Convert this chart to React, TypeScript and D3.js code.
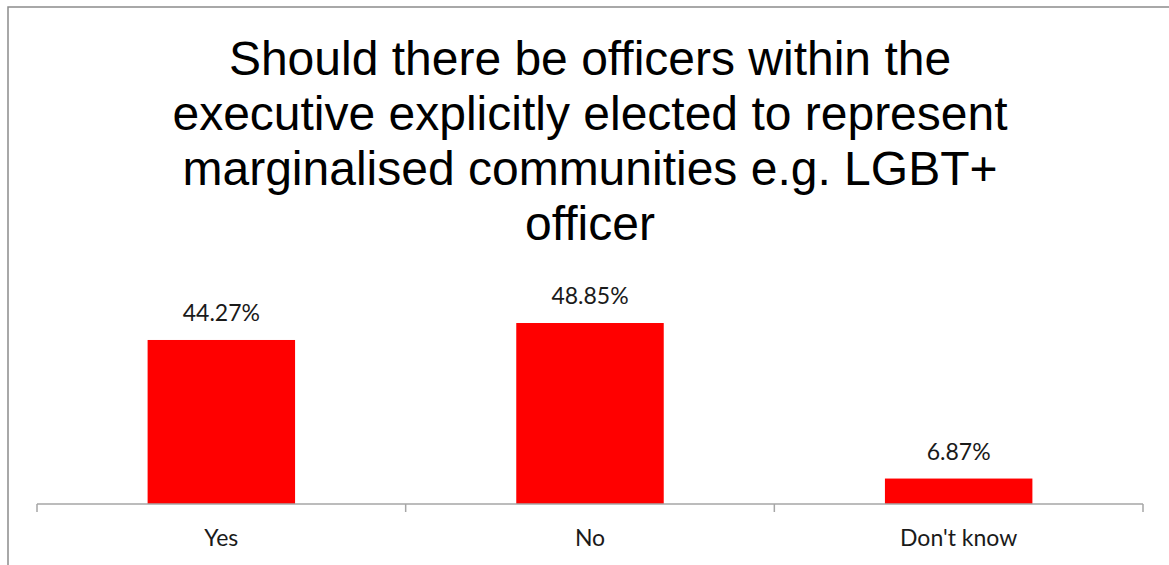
import React from "react";
import * as d3 from "d3";

const categories: string[] = ["Yes", "No", "Don't know"];
const values: number[] = [44.27, 48.85, 6.87];
const titleLines: string[] = [
  "Should there be officers within the",
  "executive explicitly elected to represent",
  "marginalised communities e.g. LGBT+",
  "officer",
];

const W = 1169;
const H = 565;

export default function App() {
  const x = d3.scaleBand<string>().domain(categories).range([37, 1143]).paddingInner(0.6).paddingOuter(0.3);
  const y = d3.scaleLinear().domain([0, 60]).range([504, 281.7]);
  const step = (1143 - 37) / categories.length;
  const tickXs = d3.range(categories.length + 1).map((i) => 37 + i * step);
  const catFont = "Lato, 'Open Sans', sans-serif";

  return (
    <svg width={W} height={H} style={{ position: "absolute", left: 0, top: 0, background: "#fff" }}>
      <rect x={8} y={7} width={W + 20} height={H + 20} fill="#fff" stroke="#8c8c8c" strokeWidth={1.5} />
      <g fontFamily="'Liberation Sans', Arial, sans-serif" fontSize={48} fill="#000" textAnchor="middle">
        {titleLines.map((t, i) => (
          <text key={i} x={590} y={75 + i * 55}>{t}</text>
        ))}
      </g>
      {categories.map((c, i) => {
        const bx = x(c)!;
        const bw = x.bandwidth();
        const top = y(values[i]);
        return (
          <g key={c}>
            <rect x={bx} y={top} width={bw} height={y(0) - top} fill="#ff0000" />
            <text x={bx + bw / 2} y={top - 19} textAnchor="middle" fontFamily={catFont} fontSize={23} fill="#1a1a1a">
              {values[i].toFixed(2) + "%"}
            </text>
            <text x={bx + bw / 2} y={546} textAnchor="middle" fontFamily={catFont} fontSize={23} fill="#1a1a1a">
              {c}
            </text>
          </g>
        );
      })}
      <line x1={37} x2={1143} y1={504} y2={504} stroke="#a6a6a6" strokeWidth={1.5} />
      {tickXs.map((tx, i) => (
        <line key={i} x1={tx} x2={tx} y1={504} y2={512} stroke="#a6a6a6" strokeWidth={1.5} />
      ))}
    </svg>
  );
}
